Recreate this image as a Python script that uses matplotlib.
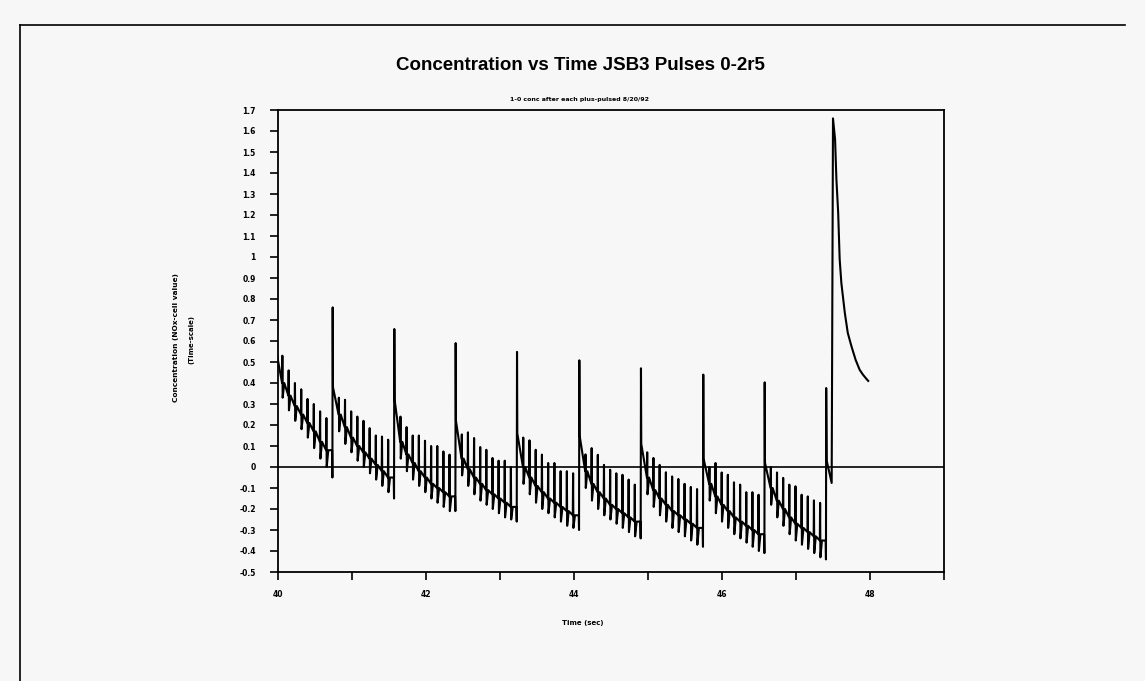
import numpy as np
import matplotlib.pyplot as plt

# big pulse times (sec), peak and knee values
big_t = [39.97, 40.735, 41.568, 42.397, 43.226, 44.068, 44.901, 45.743, 46.573]
big_peak = [0.64, 0.76, 0.657, 0.59, 0.548, 0.508, 0.47, 0.44, 0.403]
knee = [0.55, 0.38, 0.32, 0.22, 0.16, 0.15, 0.11, 0.04, 0.02]

# small pulse tops, pre-pulse levels and dips, one row per cycle
tops = [
    [0.53, 0.46, 0.40, 0.37, 0.324, 0.30, 0.265, 0.233],
    [0.33, 0.32, 0.265, 0.24, 0.22, 0.185, 0.15, 0.145, 0.13],
    [0.24, 0.19, 0.15, 0.15, 0.125, 0.10, 0.10, 0.074, 0.059],
    [0.155, 0.165, 0.138, 0.095, 0.082, 0.043, 0.03, 0.03, 0.0],
    [0.14, 0.127, 0.082, 0.059, 0.019, 0.019, -0.02, -0.02, -0.03],
    [0.06, 0.09, 0.058, 0.01, -0.013, -0.03, -0.037, -0.06, -0.084],
    [0.07, 0.043, 0.01, -0.025, -0.045, -0.057, -0.08, -0.095, -0.105],
    [0.0, 0.019, -0.026, -0.037, -0.073, -0.084, -0.12, -0.12, -0.132],
    [0.0, -0.026, -0.052, -0.084, -0.092, -0.132, -0.14, -0.159, -0.171],
]
bases = [
    [0.40, 0.34, 0.29, 0.25, 0.21, 0.17, 0.12, 0.08],
    [0.25, 0.19, 0.14, 0.10, 0.07, 0.04, 0.01, -0.02, -0.05],
    [0.12, 0.06, 0.02, -0.02, -0.05, -0.08, -0.10, -0.12, -0.14],
    [0.04, -0.01, -0.05, -0.08, -0.11, -0.13, -0.15, -0.17, -0.19],
    [0.0, -0.05, -0.09, -0.12, -0.15, -0.17, -0.19, -0.21, -0.23],
    [-0.02, -0.08, -0.12, -0.15, -0.18, -0.20, -0.22, -0.24, -0.26],
    [-0.05, -0.11, -0.15, -0.18, -0.21, -0.23, -0.25, -0.27, -0.29],
    [-0.08, -0.14, -0.18, -0.21, -0.24, -0.26, -0.28, -0.30, -0.32],
    [-0.10, -0.16, -0.20, -0.24, -0.27, -0.29, -0.31, -0.33, -0.35],
]
lows = [
    [0.33, 0.27, 0.22, 0.18, 0.14, 0.09, 0.04, 0.0],
    [0.17, 0.11, 0.07, 0.03, 0.0, -0.03, -0.06, -0.09, -0.12],
    [0.04, -0.02, -0.06, -0.09, -0.12, -0.15, -0.17, -0.19, -0.21],
    [-0.04, -0.09, -0.13, -0.16, -0.18, -0.20, -0.22, -0.24, -0.25],
    [-0.08, -0.13, -0.17, -0.20, -0.22, -0.24, -0.26, -0.28, -0.29],
    [-0.10, -0.16, -0.20, -0.23, -0.25, -0.27, -0.29, -0.31, -0.33],
    [-0.13, -0.19, -0.23, -0.26, -0.29, -0.31, -0.33, -0.35, -0.37],
    [-0.16, -0.22, -0.26, -0.29, -0.32, -0.34, -0.36, -0.38, -0.40],
    [-0.18, -0.24, -0.28, -0.32, -0.35, -0.37, -0.39, -0.41, -0.43],
]
cycle_end = [-0.05, -0.15, -0.21, -0.26, -0.30, -0.34, -0.38, -0.41, -0.44]

# last pulse and decay
final_t = [47.405, 47.408, 47.415, 47.44, 47.465, 47.482, 47.50, 47.528,
           47.546, 47.57, 47.59, 47.613, 47.66, 47.70, 47.75, 47.806,
           47.86, 47.904, 47.96, 47.976]
final_c = [-0.44, 0.376, 0.03, -0.01, -0.05, -0.076, 1.66, 1.56,
           1.37, 1.21, 0.99, 0.876, 0.733, 0.638, 0.574, 0.51,
           0.463, 0.44, 0.416, 0.41]

yticks = [round(-0.5 + 0.1 * i, 1) for i in range(23)]
xticks = list(range(40, 50))


def build_trace():
    t, c = [], []
    d = 0.004
    for k in range(len(big_t)):
        t0 = big_t[k]
        t1 = big_t[k + 1] if k + 1 < len(big_t) else final_t[0]
        if k > 0:
            t.append(t0)
            c.append(cycle_end[k - 1])
        t += [t0 + d, t0 + 2 * d]
        c += [big_peak[k], knee[k]]
        n = len(tops[k])
        step = (t1 - t0) / (n + 1)
        for i in range(n):
            s = t0 + (i + 1) * step
            t += [s, s + d, s + 2 * d, s + 0.35 * step]
            c += [bases[k][i], tops[k][i], lows[k][i], bases[k][i]]
        t.append(t1 - d)
        c.append(bases[k][-1])
    t += final_t
    c += final_c
    return np.array(t), np.array(c)


def main():
    bg = "#f7f7f7"
    fig = plt.figure(figsize=(11.45, 6.81), dpi=100, facecolor=bg)

    # page frame from the scan
    fig.add_artist(plt.Line2D([20 / 1145, 1125 / 1145], [1 - 25 / 681, 1 - 25 / 681],
                              color="black", lw=1.2, transform=fig.transFigure))
    fig.add_artist(plt.Line2D([20 / 1145, 20 / 1145], [0, 1 - 25 / 681],
                              color="black", lw=1.2, transform=fig.transFigure))

    ax = fig.add_axes([278 / 1145, 1 - 572 / 681, (944 - 278) / 1145, (572 - 110) / 681])
    ax.set_facecolor(bg)

    t, c = build_trace()
    ax.plot(t, c, color="black", lw=1.5)
    ax.axhline(0, color="black", lw=1.2)

    ax.set_xlim(40, 49)
    ax.set_ylim(-0.5, 1.7)
    ax.set_xticks(xticks)
    ax.set_xticklabels([str(x) if x % 2 == 0 else "" for x in xticks],
                       fontsize=5.5, fontweight="bold")
    ax.set_yticks(yticks)
    ax.set_yticklabels([("%g" % v) for v in yticks], fontsize=5.5, fontweight="bold")
    ax.tick_params(direction="out", length=6, width=1.2)
    ax.tick_params(axis="x", pad=7)
    ax.tick_params(axis="y", pad=10)
    for sp in ax.spines.values():
        sp.set_linewidth(1.3)

    fig.text(580 / 1145, 1 - 66 / 681, "Concentration vs Time JSB3 Pulses 0-2r5",
             ha="center", va="center", fontsize=13.5, fontweight="bold",
             family="Liberation Sans")
    fig.text(580 / 1145, 1 - 99 / 681, "1-0 conc after each plus-pulsed 8/20/92",
             ha="center", va="center", fontsize=4.5, fontweight="bold")
    fig.text(583 / 1145, 1 - 623 / 681, "Time (sec)", ha="center", va="center",
             fontsize=5, fontweight="bold")
    fig.text(176 / 1145, 1 - 338 / 681, "Concentration (NOx-cell value)",
             ha="center", va="center", rotation=90, fontsize=5.3, fontweight="bold")
    fig.text(191 / 1145, 1 - 340 / 681, "(Time-scale)",
             ha="center", va="center", rotation=90, fontsize=5, fontweight="bold")

    fig.savefig("out.png", dpi=100, facecolor=bg)


if __name__ == "__main__":
    main()
